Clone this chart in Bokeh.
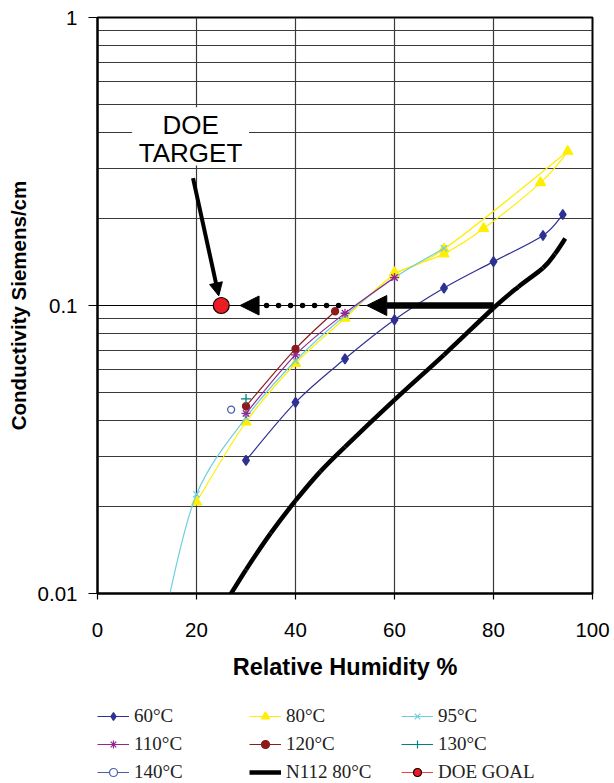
import numpy as np
from bokeh.plotting import figure
from bokeh.layouts import column
from bokeh.models import (Range1d, FixedTicker, CustomJSTickFormatter, Legend, LegendItem,
                          Arrow, NormalHead, Label, BoxAnnotation)
from bokeh.embed import file_html
from bokeh.resources import INLINE

# ---------------- data ----------------
rh_60 = [30, 40, 50, 60, 70, 80, 90, 94]
s_60 = [0.0290, 0.0461, 0.0653, 0.0892, 0.115, 0.142, 0.175, 0.207]

rh_80 = [20, 30, 40, 50, 60, 70, 78, 89.5, 95, 70, 60]
s_80 = [0.0208, 0.0394, 0.0629, 0.0903, 0.128, 0.151, 0.185, 0.267, 0.343, 0.157, 0.130]

rh_95 = [14, 20, 30, 40, 50, 60, 70]
s_95 = [0.0090, 0.0221, 0.0408, 0.0643, 0.0923, 0.125, 0.158]

rh_110 = [30, 40, 50, 60]
s_110 = [0.0422, 0.0674, 0.0940, 0.125]

rh_120 = [30, 40, 48]
s_120 = [0.0447, 0.0707, 0.0955]

rh_130 = [30]
s_130 = [0.0474]

rh_140 = [27]
s_140 = [0.0435]

rh_n112 = [26.2, 30, 35, 40, 45, 50, 60, 70, 80, 85, 90, 92.4, 94.5]
s_n112 = [0.0095, 0.0121, 0.0162, 0.0210, 0.0265, 0.0323, 0.047, 0.0674, 0.098, 0.116,
          0.135, 0.151, 0.171]

rh_goal = [25]
s_goal = [0.1]

x_ticks = [0, 20, 40, 60, 80, 100]
y_ticks = [0.01, 0.1, 1]
y_minor = [0.02, 0.03, 0.04, 0.05, 0.06, 0.07, 0.08, 0.09,
           0.2, 0.3, 0.4, 0.5, 0.6, 0.7, 0.8, 0.9]

# annotation anchors (data units)
target_s = 0.1
thick_from, thick_to = 80, 54.4
dot_from, dot_to = 48.7, 28.8
diag_start = (19.3, 0.277)
diag_end = (24.5, 0.108)
label_x = 18.8
label_y1, label_y2 = 0.4217, 0.3388
box_l, box_r, box_t, box_b = 7.0, 30.6, 0.488, 0.306

FONT = "Liberation Sans"
SERIF = "Liberation Serif"


def smooth(xs, ys):
    """Bezier control points for a smoothed line (Catmull-Rom in x/log10(y) space)."""
    x = np.asarray(xs, float)
    L = np.log10(np.asarray(ys, float))
    n = len(x)
    tx = np.zeros(n)
    tl = np.zeros(n)
    for i in range(n):
        a = max(i - 1, 0)
        b = min(i + 1, n - 1)
        if 0 < i < n - 1 and (x[i] - x[i - 1]) * (x[i + 1] - x[i]) < 0:
            continue
        tx[i] = (x[b] - x[a]) / 6.0
        tl[i] = (L[b] - L[a]) / 6.0
    return dict(x0=x[:-1], y0=10 ** L[:-1], x1=x[1:], y1=10 ** L[1:],
                cx0=x[:-1] + tx[:-1], cy0=10 ** (L[:-1] + tl[:-1]),
                cx1=x[1:] - tx[1:], cy1=10 ** (L[1:] - tl[1:]))


p = figure(width=614, height=700, x_range=Range1d(0, 100), y_range=Range1d(0.01, 1),
           y_axis_type="log", output_backend="svg", toolbar_location=None,
           min_border_left=97, min_border_right=22, min_border_top=17, min_border_bottom=107)
p.background_fill_color = "white"
p.border_fill_color = "white"
p.outline_line_color = "black"
p.outline_line_width = 2

# grids
p.xgrid.ticker = FixedTicker(ticks=x_ticks)
p.xgrid.grid_line_color = "#3a3a3a"
p.xgrid.grid_line_width = 1.2
p.ygrid.ticker = FixedTicker(ticks=y_ticks, minor_ticks=y_minor)
p.ygrid.grid_line_color = "black"
p.ygrid.grid_line_width = 1.2
p.ygrid.minor_grid_line_color = "#3a3a3a"
p.ygrid.minor_grid_line_width = 1.2

# axes
p.xaxis.ticker = FixedTicker(ticks=x_ticks)
p.yaxis.ticker = FixedTicker(ticks=y_ticks)
p.yaxis.formatter = CustomJSTickFormatter(code="return tick.toString()")
for ax in (p.xaxis[0], p.yaxis[0]):
    ax.axis_line_color = "black"
    ax.axis_line_width = 2
    ax.major_tick_line_color = "black"
    ax.major_tick_line_width = 1.2
    ax.minor_tick_line_color = None
    ax.major_label_text_font = FONT
    ax.major_label_text_font_size = "20.5px"
    ax.major_label_text_color = "black"
    ax.axis_label_text_font = FONT
    ax.axis_label_text_font_style = "bold"
    ax.axis_label_text_color = "black"
p.xaxis.major_tick_in = 0
p.xaxis.major_tick_out = 6
p.xaxis.major_label_standoff = 23
p.xaxis.axis_label = "Relative Humidity %"
p.xaxis.axis_label_text_font_size = "23.5px"
p.xaxis.axis_label_standoff = 14
p.yaxis.major_tick_in = 2
p.yaxis.major_tick_out = 9
p.yaxis.major_label_standoff = 11
p.yaxis.axis_label = "Conductivity Siemens/cm"
p.yaxis.axis_label_text_font_size = "20.5px"
p.yaxis.axis_label_standoff = 5

# N112 80°C
p.bezier(source=smooth(rh_n112, s_n112), x0="x0", y0="y0", x1="x1", y1="y1",
         cx0="cx0", cy0="cy0", cx1="cx1", cy1="cy1", line_color="black", line_width=4.5)

styles = [
    # xs, ys, color, marker, size, label, fill
    (rh_60, s_60, "#2E3192", "diamond", 10, "60°C", None),
    (rh_80, s_80, "#FFEE00", "triangle", 10, "80°C", None),
    (rh_95, s_95, "#6ECFE0", "x", 9, "95°C", None),
    (rh_110, s_110, "#92278F", "asterisk", 9, "110°C", None),
    (rh_120, s_120, "#8C1B1B", "circle", 7, "120°C", None),
    (rh_130, s_130, "#00827F", "cross", 10, "130°C", None),
    (rh_140, s_140, "#4A5DAD", "circle", 7, "140°C", "white"),
]

for xs, ys, color, marker, size, label, fill in styles:
    if len(xs) > 1:
        p.bezier(source=smooth(xs, ys), x0="x0", y0="y0", x1="x1", y1="y1",
                 cx0="cx0", cy0="cy0", cx1="cx1", cy1="cy1", line_color=color, line_width=1.2)
    p.scatter(xs, ys, marker=marker, size=size, line_color=color,
              fill_color=color if fill is None else fill, line_width=1.3)

# arrows
p.add_layout(Arrow(end=NormalHead(size=20, fill_color="black", line_color="black"),
                   x_start=thick_from, y_start=target_s, x_end=thick_to, y_end=target_s,
                   line_color="black", line_width=6.5))
p.add_layout(Arrow(end=NormalHead(size=19, fill_color="black", line_color="black"),
                   x_start=dot_from, y_start=target_s, x_end=dot_to, y_end=target_s,
                   line_color="black", line_width=5.5, line_dash="0 12", line_cap="round"))
p.add_layout(Arrow(end=NormalHead(size=13, fill_color="black", line_color="black"),
                   x_start=diag_start[0], y_start=diag_start[1],
                   x_end=diag_end[0], y_end=diag_end[1],
                   line_color="black", line_width=4))

# DOE goal
p.scatter(rh_goal, s_goal, marker="circle", size=16, fill_color="#ED1C24",
          line_color="black", line_width=1.2)

# DOE TARGET label with white box
p.add_layout(BoxAnnotation(left=box_l, right=box_r, top=box_t, bottom=box_b,
                           fill_color="white", fill_alpha=1, line_alpha=0, level="overlay"))
for txt, yy in (("DOE", label_y1), ("TARGET", label_y2)):
    p.add_layout(Label(x=label_x, y=yy, text=txt, text_align="center", text_baseline="middle",
                       text_font=FONT, text_font_size="26px", text_color="black",
                       level="overlay"))

# ---------------- legend strip (separate canvas below the chart) ----------------
# Legend proxies reuse the series data on a view range where no data falls.
q = figure(width=614, height=83, x_range=Range1d(1000, 1001), y_range=Range1d(1000, 1001),
           x_axis_type=None, y_axis_type=None, output_backend="svg", toolbar_location=None,
           min_border=0)
q.outline_line_color = None
q.background_fill_color = "white"
q.border_fill_color = "white"

items = []
for xs, ys, color, marker, size, label, fill in styles:
    r1 = q.line(xs, ys, line_color=color, line_width=1.2)
    r2 = q.scatter(xs, ys, marker=marker, size=size * 0.85, line_color=color,
                   fill_color=color if fill is None else fill, line_width=1.2)
    items.append(LegendItem(label=label, renderers=[r1, r2]))
rn = q.line(rh_n112, s_n112, line_color="black", line_width=4.5)
items.insert(7, LegendItem(label="N112 80°C", renderers=[rn]))
g1 = q.line(rh_goal, s_goal, line_color="#EE4444", line_width=1.2)
g2 = q.scatter(rh_goal, s_goal, marker="circle", size=13, fill_color="#ED1C24",
               line_color="black", line_width=1.2)
items.append(LegendItem(label="DOE GOAL", renderers=[g1, g2]))

legend = Legend(items=items, orientation="horizontal", ncols=3, location=(0, 0),
                label_text_font=SERIF, label_text_font_size="19px", label_text_color="#222222",
                glyph_width=32, glyph_height=20, label_standoff=5, label_width=109,
                spacing=6, padding=0, margin=0, border_line_alpha=0,
                background_fill_alpha=0)
q.add_layout(legend)

layout = column(p, q, spacing=0)
open("out.html", "w").write(file_html(layout, INLINE))
